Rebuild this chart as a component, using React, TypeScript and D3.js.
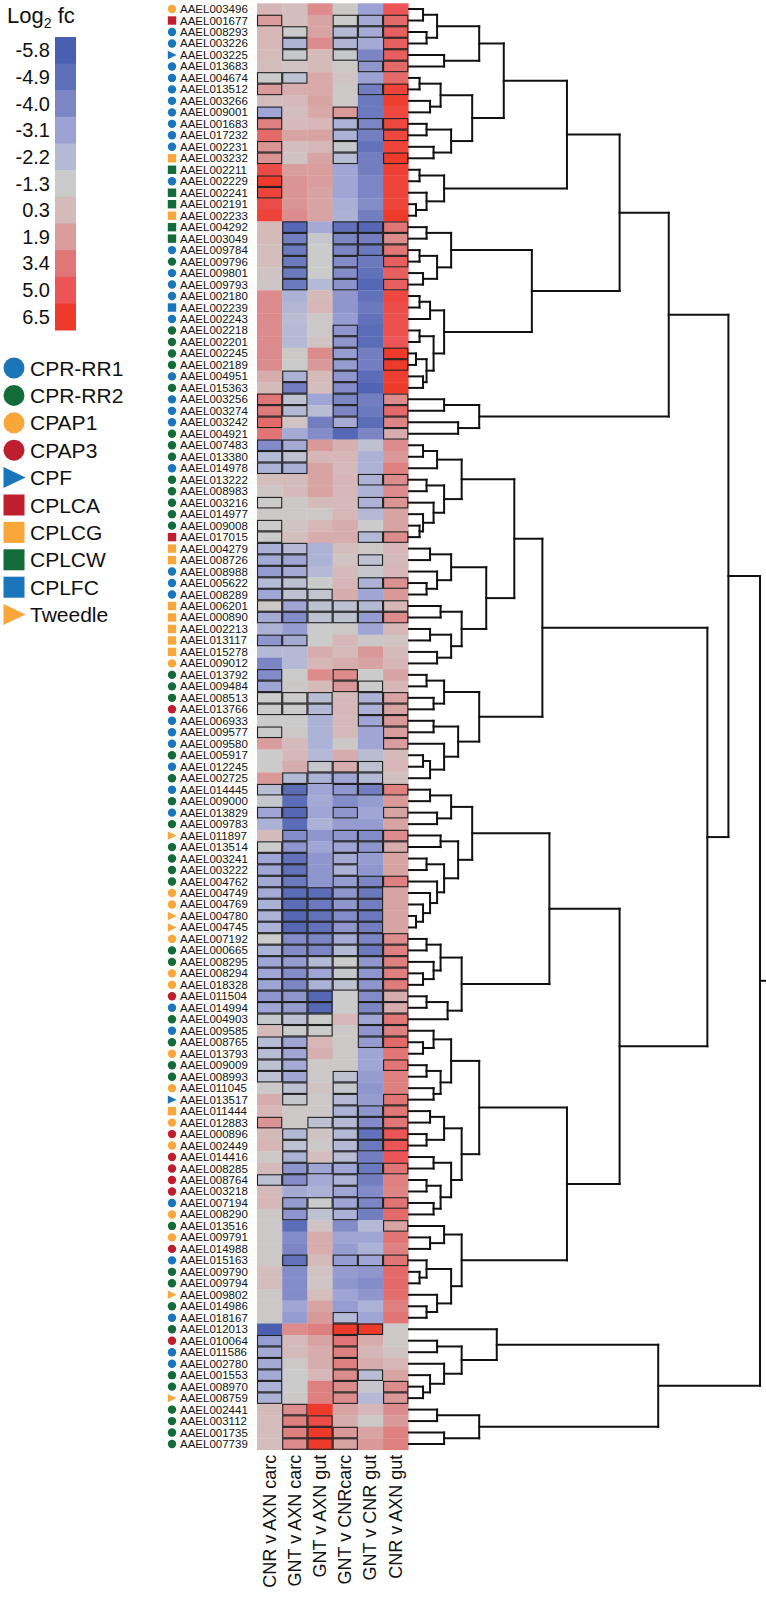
import React from 'react';
import * as d3 from 'd3';

const genes = ["AAEL003496","AAEL001677","AAEL008293","AAEL003226","AAEL003225","AAEL013683","AAEL004674","AAEL013512","AAEL003266","AAEL009001",
"AAEL001683","AAEL017232","AAEL002231","AAEL003232","AAEL002211","AAEL002229","AAEL002241","AAEL002191","AAEL002233","AAEL004292",
"AAEL003049","AAEL009784","AAEL009796","AAEL009801","AAEL009793","AAEL002180","AAEL002239","AAEL002243","AAEL002218","AAEL002201",
"AAEL002245","AAEL002189","AAEL004951","AAEL015363","AAEL003256","AAEL003274","AAEL003242","AAEL004921","AAEL007483","AAEL013380",
"AAEL014978","AAEL013222","AAEL008983","AAEL003216","AAEL014977","AAEL009008","AAEL017015","AAEL004279","AAEL008726","AAEL008988",
"AAEL005622","AAEL008289","AAEL006201","AAEL000890","AAEL002213","AAEL013117","AAEL015278","AAEL009012","AAEL013792","AAEL009484",
"AAEL008513","AAEL013766","AAEL006933","AAEL009577","AAEL009580","AAEL005917","AAEL012245","AAEL002725","AAEL014445","AAEL009000",
"AAEL013829","AAEL009783","AAEL011897","AAEL013514","AAEL003241","AAEL003222","AAEL004762","AAEL004749","AAEL004769","AAEL004780",
"AAEL004745","AAEL007192","AAEL000665","AAEL008295","AAEL008294","AAEL018328","AAEL011504","AAEL014994","AAEL004903","AAEL009585",
"AAEL008765","AAEL013793","AAEL009009","AAEL008993","AAEL011045","AAEL013517","AAEL011444","AAEL012883","AAEL000896","AAEL002449",
"AAEL014416","AAEL008285","AAEL008764","AAEL003218","AAEL007194","AAEL008290","AAEL013516","AAEL009791","AAEL014988","AAEL015163",
"AAEL009790","AAEL009794","AAEL009802","AAEL014986","AAEL018167","AAEL012013","AAEL010064","AAEL011586","AAEL002780","AAEL001553",
"AAEL008970","AAEL008759","AAEL002441","AAEL003112","AAEL001735","AAEL007739"];

const families = ["CPAP1","CPLCA","CPR-RR1","CPR-RR1","CPF","CPR-RR1","CPR-RR1","CPR-RR1","CPR-RR1","CPR-RR1",
"CPR-RR1","CPR-RR1","CPR-RR1","CPLCG","CPLCW","CPR-RR1","CPLCW","CPLCW","CPLCG","CPLCW",
"CPLCW","CPR-RR1","CPR-RR2","CPR-RR1","CPR-RR1","CPR-RR1","CPLFC","CPR-RR1","CPR-RR2","CPR-RR2",
"CPR-RR2","CPR-RR2","CPR-RR1","CPR-RR2","CPR-RR1","CPR-RR1","CPR-RR1","CPR-RR2","CPR-RR2","CPR-RR2",
"CPR-RR1","CPR-RR2","CPR-RR2","CPR-RR2","CPR-RR2","CPR-RR2","CPLCA","CPLCG","CPLCG","CPR-RR1",
"CPR-RR1","CPR-RR1","CPLCG","CPLCG","CPLCG","CPLCG","CPLCG","CPAP1","CPR-RR2","CPR-RR2",
"CPR-RR2","CPAP3","CPR-RR1","CPR-RR1","CPR-RR1","CPR-RR2","CPR-RR1","CPR-RR2","CPR-RR1","CPR-RR2",
"CPR-RR1","CPR-RR2","Tweedle","CPR-RR2","CPR-RR2","CPR-RR2","CPR-RR2","CPAP1","CPAP1","Tweedle",
"Tweedle","CPAP1","CPR-RR2","CPR-RR2","CPAP1","CPAP1","CPAP3","CPR-RR1","CPR-RR2","CPR-RR1",
"CPR-RR2","CPAP1","CPR-RR2","CPR-RR2","CPAP1","CPF","CPLCG","CPAP1","CPAP3","CPAP1",
"CPAP3","CPAP3","CPAP3","CPAP3","CPR-RR1","CPAP1","CPR-RR2","CPAP1","CPAP3","CPR-RR1",
"CPR-RR2","CPR-RR2","Tweedle","CPR-RR2","CPR-RR1","CPR-RR2","CPAP3","CPR-RR1","CPR-RR1","CPR-RR2",
"CPR-RR2","Tweedle","CPR-RR2","CPR-RR2","CPR-RR2","CPR-RR2"];

const comparisons = ["CNR v AXN carc","GNT v AXN carc","GNT v AXN gut","GNT v CNRcarc","GNT v CNR gut","CNR v AXN gut"];

const cnrAxnCarc = [0.5,1.9,0.5,0.5,0.3,0.0,-1.3,1.9,0.0,-3.0,
3.0,4.0,2.2,2.2,5.5,6.5,6.0,5.5,6.0,0.3,
0.3,0.0,0.0,-0.5,-0.8,2.5,2.5,2.5,2.5,2.5,
2.5,2.5,1.0,0.3,3.4,3.2,4.0,3.5,-3.8,-2.2,
-2.5,0.0,-0.8,-1.3,-1.0,-1.3,-1.3,-2.6,-2.8,-3.3,
-2.2,-3.0,-1.0,-2.8,-2.5,-3.5,-2.2,-4.0,-3.8,-3.0,
-1.3,-1.3,-1.3,-1.3,1.8,-1.3,-1.3,2.0,-2.0,-1.5,
-3.0,-2.5,0.3,-1.3,-3.0,-3.0,-2.8,-2.8,-2.5,-2.5,
-2.5,-1.3,-2.5,-3.0,-3.0,-3.0,-3.5,-3.0,-1.5,0.3,
-2.0,-2.0,-1.8,-1.8,-1.0,1.0,0.5,2.2,0.3,0.5,
-1.0,0.3,-1.8,0.3,0.5,-1.0,-1.0,-1.0,-1.0,-1.0,
0.0,0.0,-1.0,-1.0,-1.0,-5.8,-3.3,-2.8,-2.8,-2.8,
-2.5,-2.5,0.3,0.0,0.0,0.0];

const gntAxnCarc = [0.0,0.0,-1.3,-2.4,-1.5,-0.5,-1.8,1.0,0.3,0.0,
0.3,1.5,0.0,-0.5,1.8,2.2,2.2,2.2,2.5,-5.3,
-4.3,-4.5,-4.5,-4.5,-4.5,-2.5,-2.3,-2.0,-2.2,-2.2,
-1.0,-1.3,-2.5,-4.3,-1.8,-2.2,-0.5,-2.8,-2.8,-1.8,
-2.6,0.3,0.3,-1.0,-1.0,-0.5,0.0,-2.2,-3.0,-2.8,
-1.8,-1.8,-3.0,-3.8,-3.3,-2.8,-2.2,-2.2,-1.3,-1.0,
-1.3,-1.3,-1.3,-1.0,0.3,0.5,1.0,-2.2,-5.0,-5.0,
-5.3,-5.0,-3.8,-3.5,-4.8,-4.8,-4.5,-5.0,-5.0,-5.3,
-5.3,-3.8,-3.8,-3.3,-3.8,-4.0,-3.5,-3.3,-1.8,-1.3,
-3.0,-3.0,-2.8,-3.0,-1.8,-1.5,-1.0,-1.0,-2.2,-1.8,
-2.5,-3.5,-3.8,-2.8,-3.3,-3.5,-5.0,-3.8,-4.0,-4.8,
-3.8,-3.8,-3.8,-3.0,-3.3,2.5,0.3,0.3,-1.0,-1.3,
-1.3,-1.0,2.5,3.0,3.0,2.5];

const gntAxnGut = [2.5,1.5,1.5,2.5,0.3,0.3,1.2,1.2,1.5,1.2,
0.5,1.5,0.5,1.5,1.8,1.8,1.5,1.5,1.5,-2.8,
-1.5,-1.3,-1.3,-1.3,-2.2,0.3,0.5,-1.0,-1.0,-0.5,
2.5,2.0,0.3,0.0,-3.0,-2.0,-4.3,-3.8,2.0,0.5,
1.5,1.5,1.5,0.3,-1.0,0.5,1.0,-2.5,-2.5,-2.2,
-1.3,-1.6,-1.8,-1.8,-1.3,-1.3,1.0,0.5,2.5,0.3,
-2.0,-2.2,-2.5,-2.5,-2.5,-2.2,-1.5,-2.5,-3.0,-2.8,
-3.0,-2.5,-3.5,-3.0,-3.5,-3.5,-3.5,-5.0,-4.5,-4.8,
-4.8,-4.0,-4.0,-2.2,-3.0,-2.5,-5.3,-5.3,-1.3,-1.3,
0.5,0.8,-1.0,-1.0,-0.5,-1.0,-1.0,-1.8,-0.5,-1.0,
0.0,-3.0,-2.8,-2.5,-1.3,-1.8,-0.5,1.0,1.0,0.3,
-0.5,-0.8,0.0,1.5,2.0,3.0,1.5,1.0,1.0,0.5,
3.0,3.0,6.5,5.5,6.5,6.5];

const gntCnrCarc = [-1.0,-1.3,-2.2,-2.4,-1.5,-1.0,-0.5,-1.0,-1.0,2.0,
-2.5,-2.5,-1.5,-2.0,-3.0,-3.0,-3.0,-2.6,-2.5,-4.8,
-4.0,-4.0,-3.8,-3.8,-3.6,-3.5,-3.5,-3.3,-3.5,-3.5,
-3.3,-3.3,-3.5,-3.8,-4.0,-4.0,-2.8,-5.3,0.8,0.5,
0.3,0.5,0.5,0.3,0.5,1.0,1.0,0.0,-0.5,0.3,
0.5,1.0,-1.8,-1.8,-1.0,0.5,0.3,1.0,2.5,2.0,
0.3,0.5,0.3,0.3,-1.0,1.0,1.0,-3.0,-3.5,-3.8,
-3.5,-3.3,-3.5,-3.0,-2.8,-2.5,-3.3,-3.5,-3.5,-3.8,
-3.5,-2.8,-2.2,-1.3,-1.5,-1.8,-1.3,-1.3,0.5,-1.0,
-1.0,-1.0,-1.0,-1.8,-1.5,-2.2,-2.5,-2.2,-2.2,-2.2,
-2.0,-3.0,-2.5,-3.0,-3.0,-2.5,-3.8,-3.0,-3.3,-3.3,
-3.3,-3.5,-3.0,-3.3,-2.2,6.5,3.5,3.0,3.0,2.5,
2.5,2.5,1.5,1.0,2.0,1.5];

const gntCnrGut = [-3.1,-2.8,-2.8,-2.8,-4.0,-3.5,-3.1,-4.3,-4.5,-4.5,
-4.0,-4.3,-4.8,-4.3,-4.3,-4.0,-4.0,-3.8,-4.3,-5.3,
-4.3,-4.5,-4.5,-4.8,-5.3,-4.8,-4.5,-4.8,-5.0,-5.0,
-4.3,-4.3,-5.0,-5.5,-4.3,-4.5,-5.0,-4.0,-1.8,-2.5,
-2.5,-2.5,-2.5,-2.5,-2.2,-1.3,-2.2,-1.0,-1.8,-1.5,
-2.5,-3.0,-2.2,-3.3,-3.0,-1.0,2.0,1.5,-1.3,-1.3,
-2.5,-2.5,-3.0,-3.0,-3.0,-2.0,-1.8,-2.2,-4.3,-3.3,
-3.0,-3.3,-3.8,-3.5,-3.3,-3.5,-4.0,-4.5,-4.3,-4.5,
-4.3,-4.0,-4.5,-3.5,-3.5,-3.5,-3.8,-4.0,-3.0,-3.5,
-3.3,-3.0,-3.0,-3.3,-3.5,-3.3,-3.5,-3.8,-4.8,-4.5,
-4.3,-4.5,-4.3,-3.8,-4.0,-4.3,-2.2,-3.0,-2.5,-3.0,
-3.5,-3.8,-3.5,-2.5,-3.0,6.5,1.0,0.5,1.0,-2.0,
-1.5,-2.2,0.5,-1.0,1.5,2.0];

const cnrAxnGut = [5.0,4.0,4.5,4.5,4.6,4.0,4.0,6.0,6.3,5.8,
5.8,5.8,6.0,6.5,6.2,6.0,6.0,6.0,6.5,3.5,
2.5,3.4,4.5,4.5,4.5,5.8,5.5,5.3,5.3,5.0,
6.5,6.5,6.3,6.5,2.5,4.0,2.8,1.0,2.5,2.0,
3.0,2.5,2.5,2.2,1.5,1.5,2.5,0.5,0.3,0.5,
2.3,2.0,0.5,2.5,0.5,-0.5,0.3,0.5,1.5,0.5,
1.5,1.5,2.0,1.8,1.8,0.3,0.5,-0.3,3.0,2.0,
1.5,1.5,2.5,1.0,1.5,1.5,3.0,1.5,1.5,1.5,
1.5,2.5,3.0,3.0,3.0,3.2,1.0,1.0,3.4,3.0,
4.0,3.5,3.5,3.0,3.0,3.5,3.4,3.4,5.0,5.0,
5.0,3.5,3.0,2.8,3.5,4.0,1.5,3.5,3.0,3.5,
4.0,4.0,3.8,3.0,3.5,-1.0,-1.0,-0.5,0.5,1.5,
2.5,2.0,2.5,2.0,3.0,3.0];

// per gene, one flag per comparison: 1 = outlined (significant)
const significant = ["000000","100111","010111","010101","010101","000011","110000","100011","000000","100100",
"100111","000101","100100","100101","000000","100000","100000","000000","000000","010111",
"010111","010111","010101","010100","010101","000000","000000","000000","000100","000100",
"000101","000101","010100","010100","110101","110101","100101","000001","110000","110000",
"110000","000011","000000","100011","000000","100000","100011","110000","110010","110000",
"110011","111000","111111","111111","000000","110000","000000","000000","100100","100110",
"111011","111011","000011","100001","000001","000000","001110","011110","110111","000000",
"110101","000000","010111","110111","110100","110100","110111","111110","111110","111110",
"111110","111111","111111","111111","111111","111111","111011","111011","111011","011011",
"110011","110000","110001","110100","010100","010101","000111","101111","010111","010111",
"010100","011111","110100","000100","011111","010100","000001","000000","000000","010111",
"000000","000000","000000","000000","000100","000110","100100","100100","100100","100110",
"100101","100101","010000","011000","011100","011100"];

const legendTicks = [-5.8,-4.9,-4.0,-3.1,-2.2,-1.3,0.3,1.9,3.4,5.0,6.5];
const legendColors = ["#4b5fb0","#5e6fb9","#7c86c4","#9ca3d4","#b4b9d5","#cbcbcb","#d5baba","#d99b9b","#e07676","#eb5555","#ee3a2a"];

const familyNames = ["CPR-RR1","CPR-RR2","CPAP1","CPAP3","CPF","CPLCA","CPLCG","CPLCW","CPLFC","Tweedle"];
const familyShapes = ["circle","circle","circle","circle","triangle","square","square","square","square","triangle"];
const familyColors = ["#1b75bb","#136b3a","#f9a73b","#be1e2d","#1b75bb","#be1e2d","#f9a73b","#136b3a","#1b75bb","#f9a73b"];

// dendrogram: [height, ...children]; leaves are 1-based row numbers
const dendrogram: any = [100,
  [91,
    [74,
      [60,
        [45,
          [27,
            [20, [8, [4, 1, 2], [5, 3, 4]], [10, 5, 6]],
            [18, [9, [3, 7, 8], [6, 9, 10]], [12, [5, 11, 12], [7, 13, 14]]]],
          [10, [3, 15, 16], [5, 17, [2, 18, 19]]]],
        [35,
          [12, [5, 20, 21], [8, [3, 22, 23], [4, 24, 25]]],
          [10, [6, [3, 26, 27], 28], [7, [3, 29, 30], [5, [2, 31, 32], [4, 33, 34]]]]]],
      [20, [10, 35, 36], [14, 37, 38]]],
    [85,
      [38,
        [30,
          [15, [8, [4, 39, 40], 41], [10, [5, 42, 43], [7, 44, [4, 45, [3, 46, 47]]]]],
          [22, [12, [6, 48, 49], [8, 50, [5, 51, 52]]], [15, [9, 53, 54], [12, [6, 55, 56], [8, 57, 58]]]]],
        [20, [10, [5, 59, 60], [7, 61, 62]], [14, [7, 63, 64], [10, 65, [6, [4, 66, 67], 68]]]]],
      [60,
        [40,
          [18, [12, [6, 69, 70], [8, 71, 72]], [14, [9, 73, 74], [10, [5, 75, 76], [8, 77, [6, 78, [4, 79, [2, 80, 81]]]]]]],
          [15, [9, [5, 82, 83], [7, 84, [4, 85, 86]]], [11, [5, 87, 88], 89]]],
        [45,
          [20, [12, [7, 90, [4, 91, 92]], [9, [5, 93, 94], [7, 95, 96]]], [15, [10, [6, 97, 98], [5, 99, 100]], [12, [7, 101, 102], [9, [5, 103, 104], [7, 105, 106]]]]],
          [15, [10, 107, [6, 108, 109]], [12, [5, 110, [3, 111, 112]], [8, 113, [5, 114, 115]]]]]]]],
  [71, [25, 116, [15, [8, 117, 118], [10, 119, [6, 120, [4, 121, 122]]]]], [20, [8, 123, 124], [10, 125, 126]]]];

const FONT = "'Liberation Sans', Arial, Helvetica, sans-serif";

function Marker({ shape, color, cx, cy, s }: { shape: string; color: string; cx: number; cy: number; s: number }) {
  if (shape === 'circle') return <circle cx={cx} cy={cy} r={s} fill={color} />;
  if (shape === 'square') return <rect x={cx - s} y={cy - s} width={2 * s} height={2 * s} fill={color} />;
  return <path d={`M${cx - s},${cy - s}L${cx + s * 1.1},${cy}L${cx - s},${cy + s}Z`} fill={color} />;
}

export default function App() {
  const values = [cnrAxnCarc, gntAxnCarc, gntAxnGut, gntCnrCarc, gntCnrGut, cnrAxnGut];
  const n = genes.length;
  const top = 3.3;
  const rowH = 11.48;
  const y = d3.scaleBand<number>().domain(d3.range(n)).range([top, top + n * rowH]).paddingInner(0);
  const x = d3.scaleBand<number>().domain(d3.range(comparisons.length)).range([257, 408.3]);
  const color = d3.scaleLinear<string>().domain(legendTicks).range(legendColors).clamp(true);
  const famIndex = (f: string) => familyNames.indexOf(f);

  const leafX = 409;
  const dx = d3.scaleLinear().domain([0, 100]).range([leafX, 760]);
  const segs: [number, number, number, number][] = [];
  const layout = (node: any): { x: number; y: number } => {
    if (typeof node === 'number') return { x: leafX, y: (y(node - 1) as number) + rowH / 2 };
    const [h, ...kids] = node;
    const ps = kids.map(layout);
    const nx = dx(h);
    const ys = ps.map((p: any) => p.y);
    const y0 = Math.min(...ys), y1 = Math.max(...ys);
    segs.push([nx, y0, nx, y1]);
    ps.forEach((p: any) => segs.push([p.x, p.y, nx, p.y]));
    return { x: nx, y: (y0 + y1) / 2 };
  };
  const root = layout(dendrogram);

  const bottom = top + n * rowH;
  const legendY = d3.scaleBand<number>().domain(d3.range(legendTicks.length)).range([37, 330]);

  return (
    <svg width={766} height={1600} style={{ position: 'absolute', left: 0, top: 0, background: '#fff' }} fontFamily={FONT}>
      <text x={7} y={23} fontSize={22} fill="#111">Log<tspan fontSize={14} dy={5}>2</tspan><tspan dy={-5}> fc</tspan></text>
      {legendTicks.map((t, i) => (
        <g key={'lg' + i}>
          <rect x={55} y={legendY(i)} width={21} height={legendY.bandwidth() + 0.5} fill={legendColors[i]} />
          <text x={50} y={(legendY(i) as number) + legendY.bandwidth() / 2} fontSize={20} textAnchor="end" dominantBaseline="central" fill="#111">{t.toFixed(1)}</text>
        </g>
      ))}
      {familyNames.map((f, i) => (
        <g key={'fl' + i}>
          <Marker shape={familyShapes[i]} color={familyColors[i]} cx={14} cy={368 + i * 27.4} s={10.5} />
          <text x={30} y={368 + i * 27.4} fontSize={21} dominantBaseline="central" fill="#111">{f}</text>
        </g>
      ))}
      {genes.map((g, i) => {
        const cy = (y(i) as number) + rowH / 2;
        const fi = famIndex(families[i]);
        return (
          <g key={'gl' + i}>
            <Marker shape={familyShapes[fi]} color={familyColors[fi]} cx={172} cy={cy} s={4.2} />
            <text x={180} y={cy} fontSize={11.5} dominantBaseline="central" fill="#111">{g}</text>
          </g>
        );
      })}
      {genes.map((g, i) => values.map((col, j) => (
        <rect key={'c' + i + '_' + j} x={x(j)} y={y(i)} width={x.bandwidth() + 0.3} height={rowH + 0.3} fill={color(col[i])} />
      )))}
      {genes.map((g, i) => values.map((col, j) => significant[i][j] === '1' ? (
        <rect key={'s' + i + '_' + j} x={(x(j) as number) + 0.5} y={(y(i) as number) + 0.5} width={x.bandwidth() - 1} height={rowH - 1} fill="none" stroke="#222" strokeWidth={1.1} />
      ) : null))}
      <g stroke="#111" strokeWidth={2} fill="none" strokeLinecap="square">
        {segs.map((s, i) => <line key={'d' + i} x1={s[0]} y1={s[1]} x2={s[2]} y2={s[3]} />)}
        <line x1={root.x} y1={root.y} x2={766} y2={root.y} />
      </g>
      {comparisons.map((c, j) => {
        const cx = (x(j) as number) + x.bandwidth() / 2;
        return (
          <text key={'cl' + j} transform={`translate(${cx},${bottom + 5}) rotate(-90)`} fontSize={18} textAnchor="end" dominantBaseline="central" fill="#111">{c}</text>
        );
      })}
    </svg>
  );
}
